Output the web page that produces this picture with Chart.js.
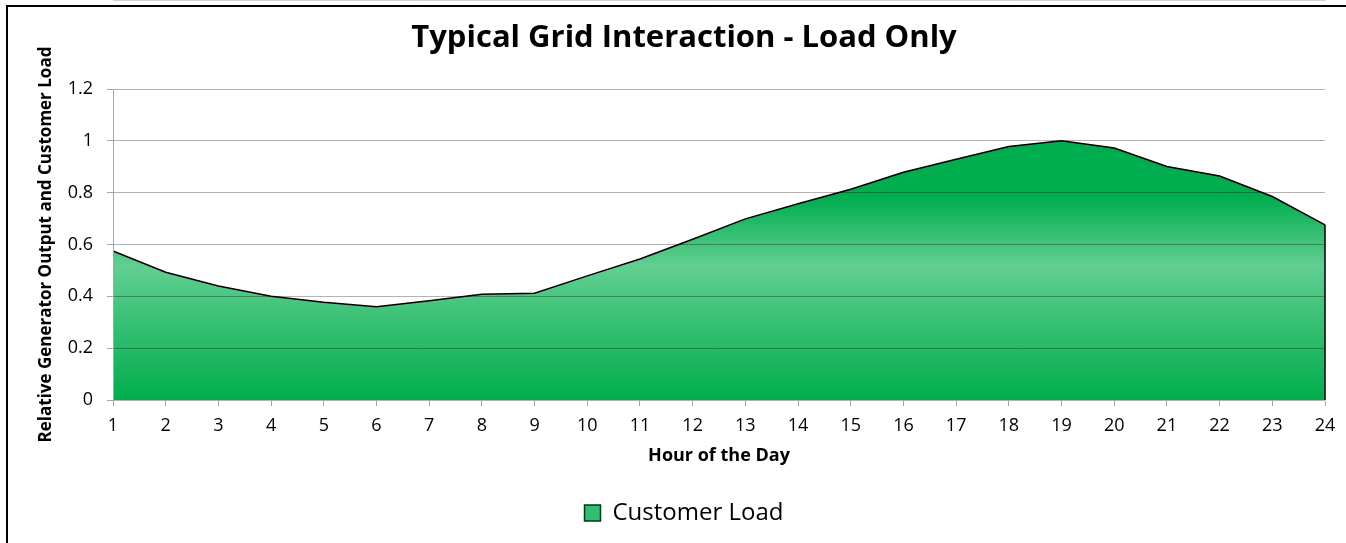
<!DOCTYPE html>
<html>
<head>
<meta charset="utf-8">
<script src="https://cdn.jsdelivr.net/npm/chart.js@4/dist/chart.umd.min.js"></script>
<style>
  html, body { margin: 0; padding: 0; background: #fff; }
  #frame { position: absolute; left: 6px; top: 5px; width: 1400px; height: 600px;
           border-left: 2px solid #000; border-top: 2px solid #000; }
  #wrap { position: absolute; left: 0; top: 0; width: 1346px; height: 543px; }
</style>
</head>
<body>
<div id="frame"></div>
<div id="wrap"><canvas id="c" width="1346" height="543"></canvas></div>
<script>
const hours = ['1','2','3','4','5','6','7','8','9','10','11','12','13','14','15','16','17','18','19','20','21','22','23','24'];
const customerLoad = [0.575, 0.493, 0.44, 0.40, 0.377, 0.36, 0.383, 0.408, 0.412, 0.479, 0.544, 0.62,
                      0.699, 0.757, 0.813, 0.879, 0.929, 0.978, 1.0, 0.972, 0.901, 0.864, 0.785, 0.676];
const yTicks = [0, 0.2, 0.4, 0.6, 0.8, 1, 1.2];
const chartTitle = 'Typical Grid Interaction - Load Only';
const xTitle = 'Hour of the Day';
const yTitle = 'Relative Generator Output and Customer Load';
const seriesName = 'Customer Load';

const FONT = "'Open Sans', 'DejaVu Sans', sans-serif";

function areaGradient(context) {
  const chart = context.chart;
  const { ctx, chartArea, scales } = chart;
  if (!chartArea) return '#1db45f';
  const y1 = scales.y.getPixelForValue(1);
  const y0 = scales.y.getPixelForValue(0);
  const g = ctx.createLinearGradient(0, y1, 0, y0);
  g.addColorStop(0, '#00ad4e');
  g.addColorStop(0.22, '#00ad4f');
  g.addColorStop(0.48, '#61cf91');
  g.addColorStop(1, '#00ad4c');
  return g;
}

// closes the area outline at the last category, like the reference's area border
const areaEdge = {
  id: 'areaEdge',
  afterDatasetsDraw(chart) {
    const { ctx, scales } = chart;
    const last = customerLoad.length - 1;
    const x = scales.x.getPixelForValue(last);
    const yTop = scales.y.getPixelForValue(customerLoad[last]);
    const yBot = scales.y.getPixelForValue(0);
    ctx.save();
    ctx.strokeStyle = '#000';
    ctx.lineWidth = 1.5;
    ctx.beginPath();
    ctx.moveTo(x, yTop);
    ctx.lineTo(x, yBot);
    ctx.stroke();
    ctx.restore();
  }
};

new Chart(document.getElementById('c'), {
  type: 'line',
  data: {
    labels: hours,
    datasets: [{
      label: seriesName,
      data: customerLoad,
      fill: 'origin',
      backgroundColor: areaGradient,
      borderColor: '#000',
      borderWidth: 1.5,
      pointRadius: 0,
      tension: 0
    }]
  },
  plugins: [areaEdge],
  options: {
    responsive: false,
    animation: false,
    layout: { padding: { left: 22, right: 0, top: 0, bottom: 8 } },
    plugins: {
      tooltip: { enabled: false },
      title: {
        display: true,
        text: chartTitle,
        color: '#000',
        font: { family: FONT, size: 31, weight: 'bold' },
        padding: { top: 19.4, bottom: 32.4 }
      },
      legend: {
        display: true,
        position: 'bottom',
        labels: {
          color: '#000',
          font: { family: FONT, size: 24 },
          boxWidth: 16,
          boxHeight: 16,
          padding: 10,
          generateLabels: () => [{
            text: seriesName,
            fillStyle: '#2fbf6e',
            strokeStyle: '#003a18',
            lineWidth: 1.5,
            hidden: false,
            datasetIndex: 0
          }]
        }
      }
    },
    scales: {
      x: {
        type: 'category',
        offset: false,
        z: 1,
        afterFit: (s) => { s.height = 91; },
        grid: { display: true, drawOnChartArea: false, drawTicks: true, tickLength: 6, color: '#a6a6a6', z: 1 },
        border: { display: true, color: '#a6a6a6', width: 1 },
        ticks: { color: '#000', font: { family: FONT, size: 18 }, padding: 9, maxRotation: 0, autoSkip: false },
        title: { display: true, text: xTitle, color: '#000', font: { family: FONT, size: 18, weight: 'bold' },
                 padding: { top: 0, bottom: 24.2 } }
      },
      y: {
        min: 0,
        max: 1.2,
        z: 1,
        afterFit: (s) => { s.width = 91; },
        afterBuildTicks: (s) => { s.ticks = yTicks.map(v => ({ value: v })); },
        grid: { display: true, color: 'rgba(0,0,0,0.3)', tickColor: '#a6a6a6', tickLength: 6, drawTicks: true, z: 1 },
        border: { display: true, color: '#a6a6a6', width: 1, z: 1 },
        ticks: { color: '#000', font: { family: FONT, size: 18 }, padding: 14,
                 callback: (v) => String(Math.round(v * 10) / 10) },
        title: { display: true, text: yTitle, color: '#000', font: { family: FONT, size: 17, weight: 'bold' },
                 padding: { top: 13.8, bottom: 0 } }
      },
      y2: {
        position: 'right',
        display: true,
        afterFit: (s) => { s.width = 21; },
        grid: { display: false },
        border: { display: false },
        ticks: { display: false }
      }
    }
  }
});
</script>
</body>
</html>
